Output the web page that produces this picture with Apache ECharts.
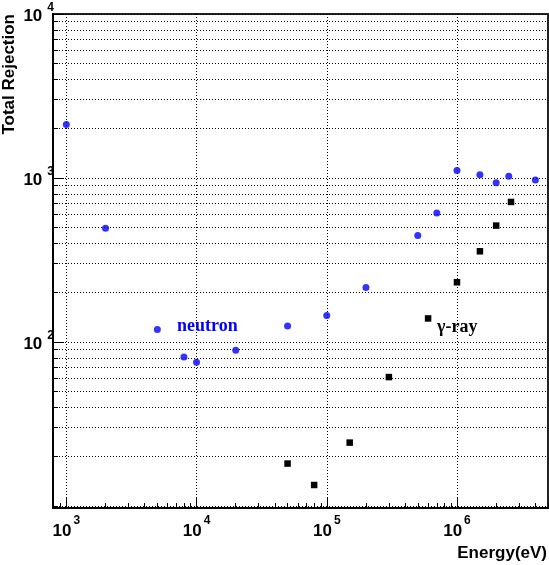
<!DOCTYPE html>
<html>
<head>
<meta charset="utf-8">
<script src="https://cdn.jsdelivr.net/npm/echarts@6/dist/echarts.min.js"></script>
<style>
html,body{margin:0;padding:0;background:#fff;}
#c{width:549px;height:565px;}
</style>
</head>
<body>
<div id="c"></div>
<script>
// ---- data ----
const neutronE = [1e3, 2e3, 5e3, 8e3, 1e4, 2e4, 5e4, 1e5, 2e5, 5e5, 7e5, 1e6, 1.5e6, 2e6, 2.5e6, 4e6];
const neutronR = [2120, 493, 119, 81, 75, 89, 125, 145, 215, 445, 612, 1112, 1047, 936, 1023, 972];
const gammaE = [5e4, 8e4, 1.5e5, 3e5, 6e5, 1e6, 1.5e6, 2e6, 2.6e6];
const gammaR = [18.1, 13.4, 24.3, 61, 139, 231, 357, 512, 714];

const xMajor = [1e3, 1e4, 1e5, 1e6];
const yMajor = [1e2, 1e3, 1e4];
const xMinor = [];
for (let p = 2; p <= 6; p++) for (let k = 1; k <= 9; k++) xMinor.push(k * Math.pow(10, p));
const yMinor = [];
for (let p = 1; p <= 4; p++) for (let k = 1; k <= 9; k++) yMinor.push(k * Math.pow(10, p));

const X_MIN = 790, X_MAX = 5e6, Y_MIN = 9.7, Y_MAX = 1e4;

const font = '"Liberation Sans", Arial, Helvetica, sans-serif';
const supFmt = v => '{b|10}{s|' + Math.round(Math.log10(v)) + '}';

const chart = echarts.init(document.getElementById('c'), null, {renderer: 'canvas'});
const dotted = {show: true, lineStyle: {color: '#000', width: 1, type: [1, 2]}};

chart.setOption({
  animation: false,
  backgroundColor: '#fff',
  grid: {left: 53, right: 1, top: 14, bottom: 57, show: true, borderColor: '#222', borderWidth: 2, backgroundColor: 'transparent'},
  xAxis: [
    {
      type: 'log', logBase: 10, min: X_MIN, max: X_MAX, position: 'bottom',
      axisLine: {show: true, onZero: false, lineStyle: {color: '#000', width: 2}},
      axisTick: {show: true, inside: true, length: 5, customValues: xMinor, lineStyle: {color: '#000', width: 1}},
      axisLabel: {show: false},
      splitLine: {show: false}
    },
    {
      type: 'log', logBase: 10, min: X_MIN, max: X_MAX, position: 'bottom',
      axisLine: {show: false, onZero: false},
      axisTick: {show: true, inside: true, length: 11, customValues: xMajor, lineStyle: {color: '#000', width: 1}},
      axisLabel: {
        show: true, customValues: xMajor, margin: 15, formatter: supFmt,
        rich: {
          b: {fontFamily: font, fontWeight: 'bold', fontSize: 17, lineHeight: 17, color: '#000'},
          s: {fontFamily: font, fontWeight: 'bold', fontSize: 12, lineHeight: 12, color: '#000', padding: [0, 0, 21, 2]}
        }
      },
      splitLine: dotted
    }
  ],
  yAxis: [
    {
      type: 'log', logBase: 10, min: Y_MIN, max: Y_MAX, position: 'left',
      axisLine: {show: true, onZero: false, lineStyle: {color: '#000', width: 2}},
      axisTick: {show: true, inside: true, length: 5, customValues: yMinor, lineStyle: {color: '#000', width: 1}},
      axisLabel: {show: false},
      splitLine: dotted
    },
    {
      type: 'log', logBase: 10, min: Y_MIN, max: Y_MAX, position: 'left',
      axisLine: {show: false, onZero: false},
      axisTick: {show: true, inside: true, length: 11, customValues: yMajor, lineStyle: {color: '#000', width: 1}},
      axisLabel: {
        show: true, customValues: yMajor, margin: -1, formatter: supFmt,
        rich: {
          b: {fontFamily: font, fontWeight: 'bold', fontSize: 17, lineHeight: 17, color: '#000', padding: [5, 0, 0, 0]},
          s: {fontFamily: font, fontWeight: 'bold', fontSize: 12, lineHeight: 12, color: '#000', padding: [0, 0, 12, 5]}
        }
      },
      splitLine: {show: false}
    }
  ],
  series: [
    {
      name: 'neutron', type: 'scatter', xAxisIndex: 0, yAxisIndex: 0,
      symbol: 'circle', symbolSize: 7,
      itemStyle: {color: '#0000ff'},
      data: neutronE.map((e, i) => [e, neutronR[i]])
    },
    {
      name: 'gamma', type: 'scatter', xAxisIndex: 0, yAxisIndex: 0,
      symbol: 'rect', symbolSize: 6.5,
      itemStyle: {color: '#000', opacity: 1},
      data: gammaE.map((e, i) => [e, gammaR[i]])
    }
  ],
  graphic: [
    {type: 'text', x: 9, y: 14, rotation: Math.PI / 2,
     style: {text: 'Total Rejection', fill: '#000', font: 'bold 17px ' + font, textAlign: 'right', textVerticalAlign: 'middle'}},
    {type: 'text', x: 547, y: 553,
     style: {text: 'Energy(eV)', fill: '#000', font: 'bold 17px ' + font, textAlign: 'right', textVerticalAlign: 'middle'}},
    {type: 'text', x: 177, y: 326,
     style: {text: 'neutron', fill: '#0000ff', font: 'bold 18px "Liberation Serif", "Times New Roman", serif', textAlign: 'left', textVerticalAlign: 'middle'}},
    {type: 'text', x: 437, y: 327,
     style: {text: 'γ-ray', fill: '#000', font: 'bold 18px "Liberation Serif", "Times New Roman", serif', textAlign: 'left', textVerticalAlign: 'middle'}}
  ]
});
</script>
</body>
</html>
